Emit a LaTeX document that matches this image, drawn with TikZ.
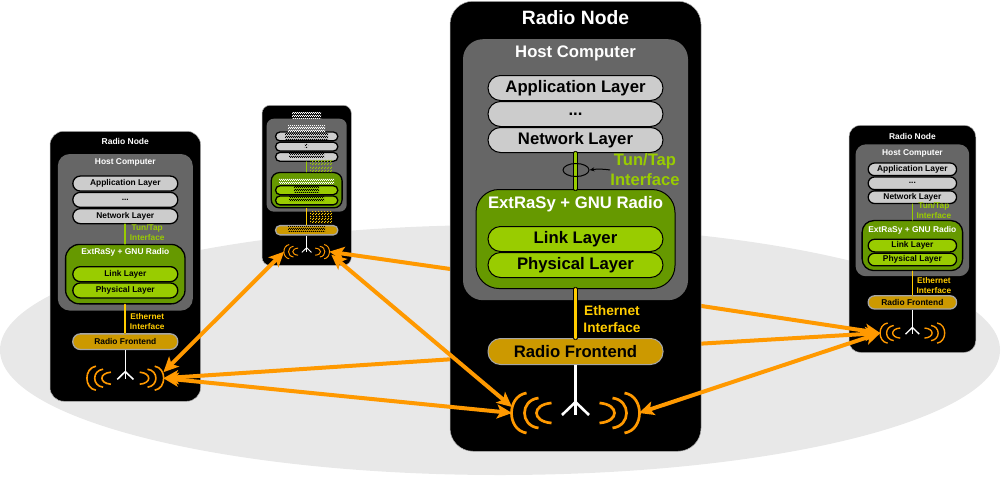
\documentclass[tikz,border=0pt]{standalone}
\usepackage{fontspec}
\setmainfont{Liberation Sans}
\usetikzlibrary{arrows.meta,positioning,patterns,shapes.geometric}
\definecolor{groundgray}{RGB}{232,232,232}
\definecolor{hostgray}{RGB}{102,102,102}
\definecolor{layergray}{RGB}{204,204,204}
\definecolor{extgreen}{RGB}{102,153,0}
\definecolor{layergreen}{RGB}{153,204,0}
\definecolor{frontgold}{RGB}{204,153,0}
\definecolor{wireyellow}{RGB}{255,204,0}
\definecolor{linkorange}{RGB}{255,153,0}
\pgfdeclarepatternformonly{finecheck}{\pgfqpoint{0pt}{0pt}}{\pgfqpoint{2.4pt}{2.4pt}}{\pgfqpoint{2.4pt}{2.4pt}}{%
\pgfpathrectangle{\pgfqpoint{0pt}{0pt}}{\pgfqpoint{1.2pt}{1.2pt}}%
\pgfpathrectangle{\pgfqpoint{1.2pt}{1.2pt}}{\pgfqpoint{1.2pt}{1.2pt}}%
\pgfusepath{fill}}
\newif\ifnotext
\newcommand{\lbl}[1]{\ifnotext\else#1\fi}
% name, left, top, scale, title size, layer size, tun size, eth size, tun x
\newcommand{\radionode}[9]{%
\begin{scope}[shift={(#2,#3)},x=#4pt,y=-#4pt]
\def\rs{#4}
\def\layerfont{\fontsize{#6}{#6}\selectfont\bfseries}
\pgfmathsetmacro\tunskip{1.2*#7}
\pgfmathsetmacro\ethskip{1.22*#8}
\pgfmathsetmacro\casing{#4==1?0.6:0}
\pgfmathsetmacro\edge{#4==1?1:1.3}
\node[nodebox] (#1) at (125.5,0) {};
\node[title,font=\fontsize{#5}{#5}\selectfont\bfseries] (#1name) at (125.5,17) {\lbl{Radio Node}};
\node[hostbox] (#1host) at (125.5,38) {};
\node[title] (#1hostname) at (125.5,52) {\lbl{Host Computer}};
\node[layerbox,anchor=north] (#1app) at (125.5,74) {\lbl{Application Layer}};
\node[layerbox,below=0pt of #1app] (#1dots) {\lbl{...}};
\node[layerbox,below=0pt of #1dots] (#1net) {\lbl{Network Layer}};
\node[extbox] (#1ext) at (125.5,188) {};
\node[title] (#1extname) at (125.5,203) {\lbl{ExtRaSy + GNU Radio}};
\node[layerbox,anchor=north,fill=layergreen] (#1link) at (125.5,225) {\lbl{Link Layer}};
\node[layerbox,below=0pt of #1link,fill=layergreen] (#1phy) {\lbl{Physical Layer}};
\node[layerbox,anchor=north,draw=gray!70,fill=frontgold,minimum height=26*\rs pt] (#1front) at (125.5,337) {\lbl{Radio Frontend}};
\draw[wire,double=layergreen,double distance=2.9*\rs pt,line width=\casing pt] (#1net.south) -- (#1ext.north);
\draw[wire,double=wireyellow,double distance=2.9*\rs pt,line width=\casing pt] (#1ext.south) -- (#1front.north);
\node[wirelabel,text=layergreen,font=\fontsize{#7}{\tunskip}\selectfont\bfseries] (#1tun) at (#9,169) {\lbl{Tun/Tap\\Interface}};
\node[wirelabel,text=wireyellow,font=\fontsize{#8}{\ethskip}\selectfont\bfseries] (#1eth) at (\ifdim#4pt=1pt 162\else #9\fi,318) {\lbl{Ethernet\\Interface}};
\coordinate (#1fork) at (125.5,401);
\draw[white,line width=2.6*\rs pt] (#1front.south) -- (125.5,414);
\draw[white,line width=2.6*\rs pt] (112,414) -- (#1fork) -- (139,414);
\foreach \e/\b/\h in {24/39/10,37/51/15,49/64/20}{
\pgfmathsetmacro\c{\e+(\b-\e)*4/3}
\draw[wave] (125.5-\e,412-\h) .. controls (125.5-\c,412-0.85*\h) and (125.5-\c,412+0.85*\h) .. (125.5-\e,412+\h);
\draw[wave] (125.5+\e,412-\h) .. controls (125.5+\c,412-0.85*\h) and (125.5+\c,412+0.85*\h) .. (125.5+\e,412+\h);
}
\coordinate (#1west) at (62,412);
\coordinate (#1east) at (189,412);
\end{scope}}
\begin{document}
\begin{tikzpicture}[x=1pt,y=-1pt,>={Stealth[length=15pt,width=14pt,inset=3.5pt]},
 nodebox/.style={draw=gray!60,line width=0.5pt,fill=black,anchor=north,inner sep=0pt,minimum width=251*\rs pt,minimum height=450*\rs pt,rounded corners=23*\rs pt},
 hostbox/.style={fill=hostgray,anchor=north,inner sep=0pt,minimum width=225*\rs pt,minimum height=261*\rs pt,rounded corners=20*\rs pt},
 extbox/.style={draw=black,line width=\edge pt,fill=extgreen,anchor=north,inner sep=0pt,minimum width=199*\rs pt,minimum height=99*\rs pt,rounded corners=23*\rs pt},
 layerbox/.style={draw=black,line width=\edge pt,fill=layergray,inner sep=0pt,font=\layerfont,minimum width=175*\rs pt,minimum height=25*\rs pt,rounded corners=12.5*\rs pt},
 title/.style={text=white,inner sep=0pt,font=\layerfont},
 wirelabel/.style={align=center,inner sep=0pt},
 wire/.style={line cap=round},
 wave/.style={draw=linkorange,line width=2.7*\rs pt},
 radiolink/.style={draw=linkorange,line width=4pt},
 greek/.style={inner sep=0pt,anchor=north west,pattern=finecheck}]
\useasboundingbox (0,0) rectangle (1001,477);
\node[ellipse,fill=groundgray,inner sep=0pt,minimum width=1000pt,minimum height=250pt] (ground) at (500,350) {};
\radionode{left}{50}{131}{0.6}{8.5}{8.4}{8.3}{8.3}{162}
\begin{scope}[title/.append style={yshift=-2.5pt}]
\radionode{right}{849}{125}{0.505}{8.4}{8.4}{8.3}{8.3}{168}
\end{scope}
\notexttrue
\radionode{top}{262}{105}{0.356}{8}{8}{8}{8}{165}
\notextfalse
\foreach \x/\y/\w/\h/\c [count=\i] in {292/112/29/6/white,288/125/37/6/white,285/133/43/7/black,304/143/4/4/black,289/151/35/6/black,
 310/159/22/6/layergreen,310/166/22/6/layergreen,279/178/55/6/white,294/186/25/6/black,289/195/35/6/black,
 310/211/22/5/wireyellow,310/217/22/6/wireyellow,288/226/37/5/black}
 \node[greek,pattern color=\c,minimum width=\w pt,minimum height=\h pt] (greek\i) at (\x,\y) {};
\coordinate (hubext) at (576,287);
\coordinate (hubfront) at (576,351);
\draw[radiolink,->] (hubext) -- (topeast);
\draw[radiolink,->] (hubfront) -- (lefteast);
\draw[radiolink,->] (hubext) -- (rightwest);
\draw[radiolink,->] (hubfront) -- (rightwest);
\radionode{big}{450}{1}{1}{19.3}{16.7}{16.6}{13.7}{195}
\node[draw=black,line width=1pt,ellipse,inner sep=0pt,minimum width=26pt,minimum height=13pt] (tunring) at (576,170) {};
\draw[->,>={Stealth[length=5pt,width=4pt]},line width=1pt] (bigtun.west) to[bend right=8] (tunring.east);
\draw[radiolink,<->] ([yshift=6pt]lefteast) -- (topwest);
\draw[radiolink,<->] (lefteast) -- (bigwest);
\draw[radiolink,<->] ([xshift=2pt,yshift=-3pt]topeast) -- ([yshift=6pt]bigwest);
\draw[radiolink,<->] (bigeast) -- (rightwest);
\end{tikzpicture}
\end{document}
